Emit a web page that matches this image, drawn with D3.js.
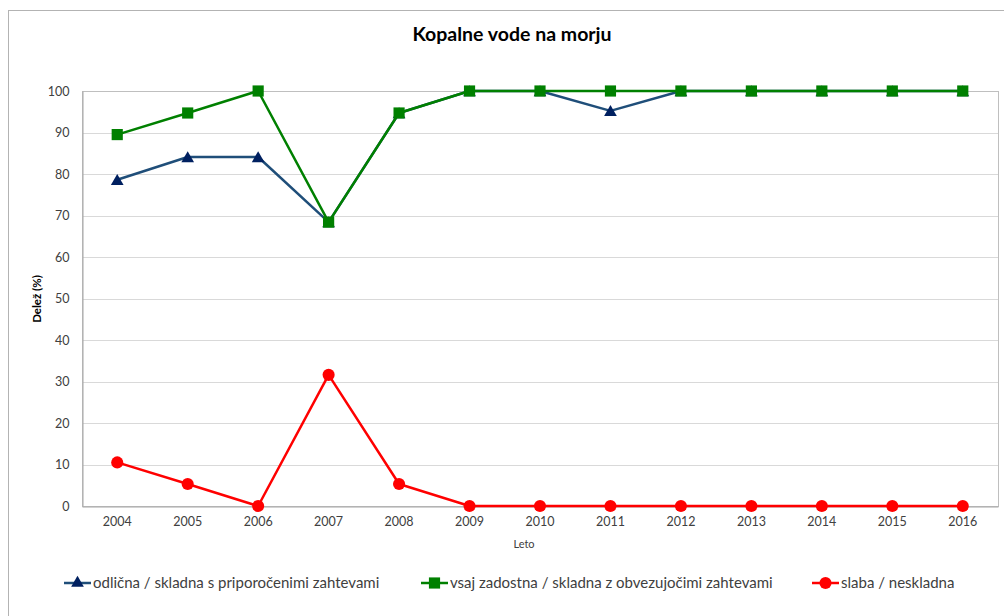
<!DOCTYPE html>
<html>
<head>
<meta charset="utf-8">
<script src="https://cdn.jsdelivr.net/npm/d3@7"></script>
<style>
  body { margin: 0; background: #fff; }
  svg text { font-family: Lato, "Open Sans", sans-serif; fill: #404040; }
</style>
</head>
<body>
<svg id="chart" width="1004" height="616"></svg>
<script>

// Data
var years = ["2004","2005","2006","2007","2008","2009","2010","2011","2012","2013","2014","2015","2016"]
var odlicna = [78.6, 84.1, 84.1, 68.4, 94.7, 100, 100, 95.2, 100, 100, 100, 100, 100]
var vsaj = [89.5, 94.7, 100, 68.4, 94.7, 100, 100, 100, 100, 100, 100, 100, 100]
var slaba = [10.5, 5.3, 0, 31.6, 5.3, 0, 0, 0, 0, 0, 0, 0, 0]
var yTicks = [0, 10, 20, 30, 40, 50, 60, 70, 80, 90, 100]

var series = [
    {name: "odlična / skladna s priporočenimi zahtevami", values: odlicna, line: "#1f4e79", fill: "#002060", marker: "triangle"},
    {name: "vsaj zadostna / skladna z obvezujočimi zahtevami", values: vsaj, line: "#008000", fill: "#008000", marker: "square"},
    {name: "slaba / neskladna", values: slaba, line: "#ff0000", fill: "#ff0000", marker: "circle"}
]

var svg = d3.select("#chart")

var plot = {left: 82, right: 998, top: 91, bottom: 506}

var x = d3.scaleBand()
    .domain(years)
    .range([plot.left, plot.right])

var y = d3.scaleLinear()
    .domain([0, 100])
    .range([plot.bottom, plot.top])

// outer chart frame
svg.append("rect")
    .attr("x", 8.5).attr("y", 10.5)
    .attr("width", 1010).attr("height", 620)
    .attr("fill", "none")
    .attr("stroke", "#b3b3b3")

svg.append("text")
    .attr("x", 512).attr("y", 41)
    .attr("text-anchor", "middle")
    .style("font-size", "19.5px")
    .style("font-weight", "bold")
    .style("fill", "#000")
    .text("Kopalne vode na morju")

// gridlines
svg.append("g").selectAll("line")
    .data(yTicks)
    .enter().append("line")
    .attr("x1", plot.left).attr("x2", plot.right)
    .attr("y1", function(d) { return Math.round(y(d)) + 0.5 })
    .attr("y2", function(d) { return Math.round(y(d)) + 0.5 })
    .attr("stroke", "#d9d9d9")

// plot area border
svg.append("rect")
    .attr("x", plot.left + 0.5).attr("y", plot.top + 0.5)
    .attr("width", plot.right - plot.left).attr("height", plot.bottom - plot.top)
    .attr("fill", "none")
    .attr("stroke", "#bfbfbf")

// axes
var yAxis = d3.axisLeft(y).tickValues(yTicks).tickSize(0).tickPadding(13)
var gy = svg.append("g").attr("transform", "translate(" + (plot.left + 0.5) + ",0)").call(yAxis)
gy.select(".domain").attr("stroke", "#a6a6a6")
gy.selectAll("text").style("font-size", "12.5px").style("fill", "#404040")

var xAxis = d3.axisBottom(x).tickSize(0).tickPadding(11)
var gx = svg.append("g").attr("transform", "translate(0," + (plot.bottom + 0.5) + ")").call(xAxis)
gx.select(".domain").attr("stroke", "#a6a6a6")
gx.selectAll("text").style("font-size", "12.5px").style("fill", "#404040")

svg.append("text")
    .attr("transform", "translate(41,299) rotate(-90)")
    .attr("text-anchor", "middle")
    .style("font-size", "11.5px")
    .style("font-weight", "bold")
    .style("fill", "#000")
    .text("Delež (%)")

svg.append("text")
    .attr("x", 524).attr("y", 548)
    .attr("text-anchor", "middle")
    .style("font-size", "11px")
    .text("Leto")

var symbols = {
    triangle: d3.symbol().type(d3.symbolTriangle).size(70),
    square: d3.symbol().type(d3.symbolSquare).size(125),
    circle: d3.symbol().type(d3.symbolCircle).size(115)
}

var line = d3.line()
    .x(function(d, i) { return x(years[i]) + x.bandwidth() / 2 })
    .y(function(d) { return y(d) })

series.forEach(function(s) {
    var g = svg.append("g")
    g.append("path")
        .attr("d", line(s.values))
        .attr("fill", "none")
        .attr("stroke", s.line)
        .attr("stroke-width", 2.5)
        .attr("stroke-linejoin", "round")

    g.selectAll("path.mark")
        .data(s.values)
        .enter().append("path")
        .attr("class", "mark")
        .attr("d", symbols[s.marker])
        .attr("transform", function(d, i) {
            return "translate(" + (x(years[i]) + x.bandwidth() / 2) + "," + (y(d) + (s.marker == "triangle" ? 1.5 : 0)) + ")"
        })
        .attr("fill", s.fill)
})

// legend
var legendX = [64, 421, 812]
var legend = svg.append("g")
series.forEach(function(s, i) {
    var lg = legend.append("g").attr("transform", "translate(" + legendX[i] + ",583)")
    lg.append("line")
        .attr("x1", 0).attr("x2", 27)
        .attr("stroke", s.line)
        .attr("stroke-width", 2.5)
    lg.append("path")
        .attr("d", symbols[s.marker])
        .attr("transform", "translate(13.5,0)")
        .attr("fill", s.fill)
    lg.append("text")
        .attr("x", 29).attr("y", 5)
        .style("font-size", "15px")
        .text(s.name)
})

</script>
</body>
</html>
